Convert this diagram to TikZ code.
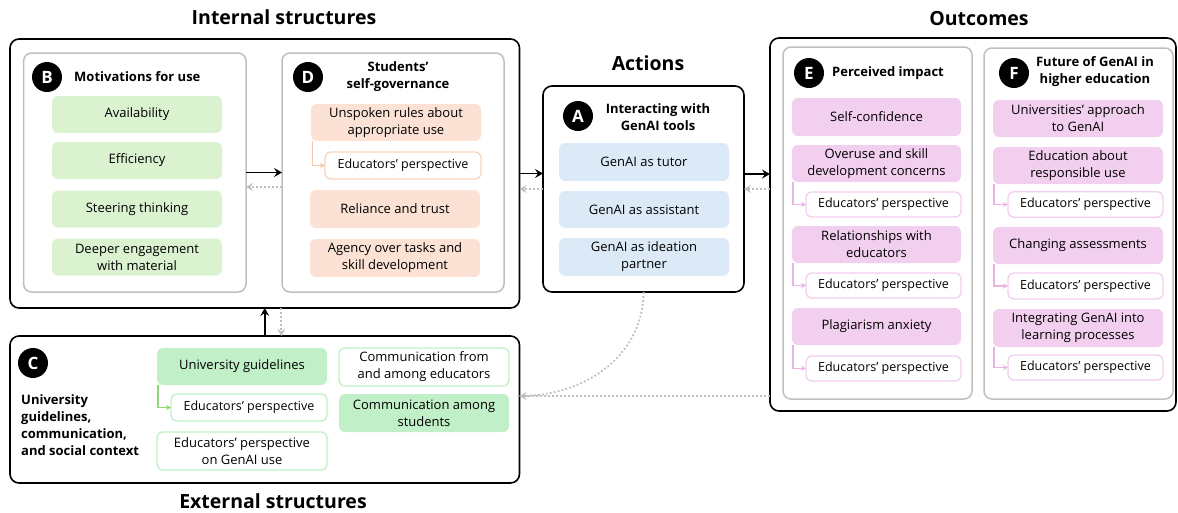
\documentclass[tikz,border=0pt]{standalone}
\usepackage{fontspec}
\setmainfont{Open Sans}
\usetikzlibrary{calc,arrows.meta}
\definecolor{gry}{HTML}{BFBFBF}
\definecolor{grnB}{HTML}{DAF2D0}
\definecolor{grnC}{HTML}{C1F0C8}
\definecolor{grnL}{HTML}{8ED973}
\definecolor{peach}{HTML}{FBE2D5}
\definecolor{peachB}{HTML}{F9D3C0}
\definecolor{peachL}{HTML}{F7C7AC}
\definecolor{blu}{HTML}{DCEAF7}
\definecolor{pnk}{HTML}{F2CEEF}
\definecolor{pnkL}{HTML}{E9B3E3}
\newcommand\myfs[2]{\fontsize{#1}{#2}\selectfont}
\tikzset{
  ttl/.style={font=\myfs{19.5}{23}\bfseries, inner sep=0},
  hdr/.style={font=\myfs{13}{17}\bfseries, inner sep=0},
  outerbox/.style={draw=black, line width=1.6, rounded corners=9, inner sep=0, outer sep=0},
  grp/.style={draw=gry, line width=1.5, rounded corners=8, inner sep=0, outer sep=0},
  badge/.style={circle, fill=black, text=white, minimum size=30, inner sep=0, font=\myfs{17}{20}\bfseries},
  item/.style={rounded corners=6, inner sep=0, outer sep=0, align=center, font=\myfs{13}{17}, text=black},
  gB/.style={item, fill=grnB, minimum width=170, minimum height=37},
  pD/.style={item, fill=peach, minimum width=170, minimum height=37},
  bA/.style={item, fill=blu, minimum width=170, minimum height=37},
  pE/.style={item, fill=pnk, minimum width=169, minimum height=37},
  gC/.style={item, fill=grnC, minimum width=170, minimum height=37},
  wC/.style={item, fill=white, draw=grnC, line width=1.3, minimum width=170, minimum height=37},
  ep/.style={item, fill=white, line width=1.3, font=\myfs{12.5}{16}, minimum width=156, minimum height=26},
  blk/.style={draw=black, line width=1.6, -{Stealth[length=8,width=9,inset=3]}},
  dotarr/.style={draw=gry, line width=1.8, dash pattern=on 1.8 off 2.2, -{Stealth[length=7,width=8,inset=2.5]}},
  dotln/.style={draw=gry, line width=1.8, dash pattern=on 1.8 off 2.2},
  conP/.style={draw=peachL, line width=1.1, -{Stealth[length=5,width=5,inset=1.5]}},
  conK/.style={draw=pnkL, line width=1.1, -{Stealth[length=5,width=5,inset=1.5]}},
  conG/.style={draw=grnL, line width=1.1, -{Stealth[length=5,width=5,inset=1.5]}},
}
\begin{document}
\begin{tikzpicture}[x=1pt,y=-1pt]
\useasboundingbox (0,0) rectangle (1178,512);

% titles
\node[ttl] (tInt) at (284,17.5) {Internal structures};
\node[ttl] (tAct) at (648,63) {Actions};
\node[ttl] (tOut) at (979,19) {Outcomes};
\node[ttl] (tExt) at (273,501.5) {External structures};

% outer boxes
\node[outerbox, minimum width=509.5, minimum height=269] (intbox) at (264.75,173.5) {};
\node[outerbox, minimum width=509.5, minimum height=147] (cbox) at (264.75,409.5) {};
\node[outerbox, minimum width=201, minimum height=206] (abox) at (643.5,189) {};
\node[outerbox, minimum width=406, minimum height=373] (obox) at (973,224.5) {};

% group boxes
\node[grp, minimum width=222.4, minimum height=239] (bbox) at (134.8,172.5) {};
\node[grp, minimum width=222, minimum height=239] (dbox) at (393,172.5) {};
\node[grp, minimum width=189, minimum height=352] (ebox) at (877.5,223) {};
\node[grp, minimum width=189, minimum height=351] (fbox) at (1078.5,223.5) {};

% badges and headers
\node[badge] (bB) at (47,77) {B};
\node[hdr, anchor=west] (hB) at (74,77) {Motivations for use};
\node[badge] (bD) at (308,77) {D};
\node[hdr, align=center] (hD) at (398,77) {Students’\\self-governance};
\node[badge] (bA) at (578,116) {A};
\node[hdr, align=center] (hA) at (658,117) {Interacting with\\GenAI tools};
\node[badge] (bE) at (809,73) {E};
\node[hdr, anchor=west] (hE) at (832,73) {Perceived impact};
\node[badge] (bF) at (1014,73) {F};
\node[hdr, align=center] (hF) at (1095,72) {Future of GenAI in\\higher education};
\node[badge] (bC) at (33,363) {C};
\node[hdr, align=left, anchor=west] (hC) at (21,425) {University\\guidelines,\\communication,\\and social context};

% B items
\node[gB] (b1) at (137,114.5) {Availability};
\node[gB] (b2) at (137,160.5) {Efficiency};
\node[gB] (b3) at (137,209) {Steering thinking};
\node[gB] (b4) at (137,257) {Deeper engagement\\with material};

% D items
\node[pD] (d1) at (396,122.5) {Unspoken rules about\\appropriate use};
\node[ep, draw=peachB, minimum width=156, minimum height=27] (dep) at (403,165.5) {Educators’ perspective};
\node[pD, minimum height=38] (d2) at (395,209) {Reliance and trust};
\node[pD, minimum height=38] (d3) at (395,258) {Agency over tasks and\\skill development};
\draw[conP] ([xshift=1.5]d1.south west) |- (dep.west);

% A items
\node[bA, minimum height=38] (a1) at (644,162) {GenAI as tutor};
\node[bA] (a2) at (644,209.5) {GenAI as assistant};
\node[bA, minimum height=38] (a3) at (644,257) {GenAI as ideation\\partner};

% E items
\node[pE, minimum height=38] (e1) at (876.5,117) {Self-confidence};
\node[pE] (e2) at (876.5,163.5) {Overuse and skill\\development concerns};
\node[ep, draw=pnk, minimum width=155, minimum height=25] (eep1) at (883.5,204.5) {Educators’ perspective};
\node[pE] (e3) at (876.5,244.5) {Relationships with\\educators};
\node[ep, draw=pnk, minimum width=155, minimum height=25] (eep2) at (883.5,285.5) {Educators’ perspective};
\node[pE] (e4) at (876.5,326.5) {Plagiarism anxiety};
\node[ep, draw=pnk, minimum width=155, minimum height=25] (eep3) at (883.5,368.5) {Educators’ perspective};
\draw[conK] ([xshift=1]e2.south west) |- (eep1.west);
\draw[conK] ([xshift=1]e3.south west) |- (eep2.west);
\draw[conK] ([xshift=1]e4.south west) |- (eep3.west);

% F items
\node[pE, minimum width=170] (f1) at (1078,118.5) {Universities’ approach\\to GenAI};
\node[pE, minimum width=170] (f2) at (1078,165.5) {Education about\\responsible use};
\node[ep, draw=pnk, minimum width=155, minimum height=25.5] (fep1) at (1085.5,204.5) {Educators’ perspective};
\node[pE, minimum width=170] (f3) at (1078,245.5) {Changing assessments};
\node[ep, draw=pnk, minimum width=155, minimum height=26] (fep2) at (1085.5,286) {Educators’ perspective};
\node[pE, minimum width=170, minimum height=38] (f4) at (1078,328) {Integrating GenAI into\\learning processes};
\node[ep, draw=pnk, minimum width=155, minimum height=25] (fep3) at (1085.5,367.5) {Educators’ perspective};
\draw[conK] ([xshift=1]f2.south west) |- (fep1.west);
\draw[conK] ([xshift=1]f3.south west) |- (fep2.west);
\draw[conK] ([xshift=1]f4.south west) |- (fep3.west);

% C items
\node[gC] (c1) at (242,366.5) {University guidelines};
\node[ep, draw=grnC, minimum width=156, minimum height=27] (cep) at (249,407.5) {Educators’ perspective};
\node[wC, minimum height=38] (c2) at (242,451) {Educators’ perspective\\on GenAI use};
\node[wC, minimum height=38] (c3) at (424,367) {Communication from\\and among educators};
\node[gC, minimum height=38] (c4) at (424,413) {Communication among\\students};
\draw[conG] ([xshift=1]c1.south west) |- (cep.west);

% main connectors
\draw[blk] (bbox.east) -- (dbox.west);
\draw[dotarr] ($(dbox.west)+(0,14.5)$) -- ($(bbox.east)+(0,14.5)$);
\draw[blk] (intbox.east) -- (intbox.east -| abox.west);
\draw[dotarr] (abox.west) -- (abox.west -| intbox.east);
\coordinate (aout) at ($(abox.east)+(0,-15)$);
\draw[blk] (aout) -- (aout -| obox.west);
\draw[dotarr] (obox.west |- abox.east) -- (abox.east);
\draw[blk] (cbox.north) -- (intbox.south);
\draw[dotarr] ($(intbox.south)+(16.5,0)$) -- ($(cbox.north)+(16.5,0)$);
\coordinate (cin) at ($(cbox.east)+(0,-13.5)$);
\coordinate (oin) at (obox.west |- cin);
\draw[dotln] (abox.south) .. controls ($(abox.south)+(0,60)$) and ($(cin)+(70,0)$) .. (cin);
\draw[dotarr] (oin) -- (cin);
\end{tikzpicture}
\end{document}
